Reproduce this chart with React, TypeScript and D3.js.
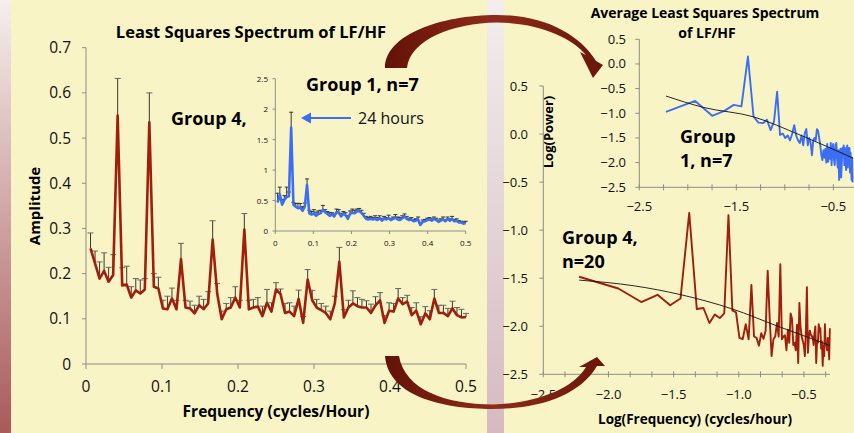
import React from "react";
import * as d3 from "d3";

// harmonic index k -> frequency k/168 cycles per hour (one week of hourly data)
const harmonics = d3.range(1, 85);
const baseHours = 168;

// Group 4 mean amplitude and upper error bar (linear spectrum)
const g4Amp = [
  0.256, 0.2225, 0.189, 0.206, 0.182, 0.197, 0.55, 0.174, 0.176, 0.147,
  0.163, 0.156, 0.165, 0.535, 0.171, 0.167, 0.123, 0.121, 0.145, 0.121,
  0.232, 0.125, 0.123, 0.112, 0.13, 0.1215, 0.134, 0.2755, 0.156, 0.099,
  0.121, 0.125, 0.147, 0.125, 0.2975, 0.121, 0.125, 0.127, 0.106, 0.1355,
  0.116, 0.165, 0.155, 0.113, 0.116, 0.106, 0.144, 0.091, 0.187, 0.141,
  0.125, 0.119, 0.113, 0.099, 0.134, 0.226, 0.103, 0.125, 0.134, 0.128,
  0.125, 0.125, 0.113, 0.13, 0.141, 0.091, 0.118, 0.116, 0.145, 0.1325,
  0.138, 0.108, 0.118, 0.088, 0.112, 0.099, 0.145, 0.113, 0.113, 0.106,
  0.123, 0.108, 0.103, 0.104,
];
const g4Err = [
  0.29, 0.25, 0.226, 0.246, 0.214, 0.242, 0.632, 0.213, 0.2165, 0.171,
  0.189, 0.186, 0.189, 0.6, 0.2, 0.192, 0.141, 0.15, 0.168, 0.141,
  0.267, 0.141, 0.139, 0.13, 0.15, 0.143, 0.16, 0.317, 0.178, 0.117,
  0.134, 0.147, 0.171, 0.141, 0.333, 0.141, 0.143, 0.147, 0.128, 0.165,
  0.1355, 0.18, 0.166, 0.134, 0.1355, 0.128, 0.1635, 0.105, 0.209, 0.163,
  0.143, 0.134, 0.128, 0.117, 0.15, 0.258, 0.12, 0.141, 0.162, 0.147,
  0.143, 0.14, 0.1325, 0.149, 0.158, 0.107, 0.1355, 0.134, 0.167, 0.147,
  0.152, 0.125, 0.1355, 0.1045, 0.127, 0.118, 0.165, 0.13, 0.13, 0.123,
  0.139, 0.125, 0.121, 0.112,
];

// Group 1 mean amplitude and upper error bar (inset)
const g1Amp = [
  0.47, 0.6, 0.43, 0.51, 0.56, 0.57, 1.7, 0.43, 0.4, 0.375,
  0.386, 0.33, 0.4, 0.755, 0.29, 0.27, 0.29, 0.25, 0.28, 0.29,
  0.35, 0.31, 0.28, 0.25, 0.27, 0.24, 0.31, 0.3, 0.24, 0.28,
  0.26, 0.2, 0.28, 0.3, 0.29, 0.32, 0.33, 0.3, 0.25, 0.2,
  0.19, 0.2, 0.19, 0.2, 0.18, 0.21, 0.17, 0.2, 0.19, 0.21,
  0.18, 0.2, 0.22, 0.19, 0.18, 0.21, 0.24, 0.2, 0.18, 0.19,
  0.16, 0.17, 0.19, 0.1, 0.15, 0.16, 0.18, 0.19, 0.17, 0.2,
  0.18, 0.15, 0.17, 0.19, 0.16, 0.2, 0.17, 0.2, 0.16, 0.17,
  0.14, 0.14, 0.12, 0.13,
];
const g1Err = [
  0.62, 0.72, 0.52, 0.58, 0.72, 0.64, 1.95, 0.47, 0.45, 0.455,
  0.45, 0.4, 0.46, 0.855, 0.34, 0.32, 0.35, 0.31, 0.33, 0.34,
  0.42, 0.35, 0.32, 0.3, 0.3, 0.28, 0.36, 0.35, 0.29, 0.32,
  0.3, 0.25, 0.33, 0.36, 0.34, 0.36, 0.37, 0.34, 0.29, 0.24,
  0.22, 0.24, 0.22, 0.25, 0.22, 0.25, 0.21, 0.24, 0.22, 0.26,
  0.21, 0.23, 0.27, 0.23, 0.22, 0.25, 0.28, 0.24, 0.21, 0.22,
  0.19, 0.2, 0.23, 0.13, 0.18, 0.19, 0.21, 0.22, 0.2, 0.23,
  0.21, 0.18, 0.2, 0.23, 0.19, 0.23, 0.2, 0.24, 0.19, 0.2,
  0.17, 0.16, 0.15, 0.16,
];

// average log power spectra
const g1LogPower = [
  -0.97, -0.75, -1.05, -0.95, -0.83, -0.86, 0.15, -1.07, -1.19, -1.2,
  -1.13, -1.34, -1.17, -0.56, -1.44, -1.41, -1.5, -1.45, -1.55, -1.42,
  -1.24, -1.45, -1.55, -1.6, -1.45, -1.65, -1.4, -1.32, -1.65, -1.5,
  -1.6, -1.85, -1.55, -1.5, -1.55, -1.32, -1.35, -1.5, -1.65, -1.85,
  -1.95, -1.75, -1.9, -1.72, -2.0, -1.62, -1.98, -1.7, -1.92, -1.6,
  -2.05, -1.7, -1.62, -1.95, -2.05, -1.65, -1.6, -1.9, -2.1, -1.75,
  -2.35, -1.9, -1.72, -2.3, -2.0, -1.7, -1.85, -1.65, -2.05, -1.7,
  -1.9, -2.15, -1.75, -1.65, -2.1, -1.7, -1.95, -1.7, -2.2, -1.8,
  -2.05, -2.35, -1.9, -2.4,
];
const g4LogPower = [
  -1.485, -1.607, -1.748, -1.673, -1.781, -1.712, -0.82, -1.82, -1.81, -1.966,
  -1.877, -1.915, -1.866, -0.844, -1.835, -1.856, -2.121, -2.135, -1.978, -2.135,
  -1.57, -2.107, -2.121, -2.202, -2.073, -2.131, -2.047, -1.421, -1.915, -2.31,
  -2.135, -2.107, -1.966, -2.107, -1.354, -2.135, -2.107, -2.094, -2.25, -2.037,
  -2.172, -1.866, -1.92, -2.195, -2.172, -2.25, -1.984, -2.383, -1.757, -2.002,
  -2.107, -2.15, -2.195, -2.31, -2.047, -1.593, -2.275, -2.107, -2.047, -2.087,
  -2.107, -2.107, -2.195, -2.073, -2.002, -2.383, -2.157, -2.172, -1.978, -2.057,
  -2.021, -2.234, -2.157, -2.412, -2.202, -2.31, -1.978, -2.195, -2.195, -2.25,
  -2.121, -2.234, -2.345, -2.02,
];

// fitted trend lines (log frequency, log power)
const g1TrendX = [-2.225, -1.84, -1.325, -0.843, -0.294];
const g1TrendY = [-0.65, -0.88, -1.07, -1.44, -1.91];
const g4TrendX = [-2.225, -1.8, -1.45, -1.05, -0.7, -0.3];
const g4TrendY = [-1.52, -1.58, -1.67, -1.82, -2.0, -2.2];

const mainYTicks = [0, 0.1, 0.2, 0.3, 0.4, 0.5, 0.6, 0.7];
const mainXTicks = [0, 0.1, 0.2, 0.3, 0.4, 0.5];
const insetYTicks = [0, 0.5, 1, 1.5, 2, 2.5];
const insetYLabels = ["0", "0.5", "1", "1.5", "2", "2.5"];
const logYTicks = [-2.5, -2.0, -1.5, -1.0, -0.5, 0.0, 0.5];
const g1LogXLabels = [-2.5, -1.5, -0.5];
const g4LogXLabels = [-2.5, -2.0, -1.5, -1.0, -0.5];

const BG = "#f8f4c6";
const RED = "#a01e0c";
const BLUE = "#3b6ef2";
const AXIS = "#8c8c8c";
const FONT = "'Open Sans', sans-serif";

const freqs = harmonics.map((k) => k / baseHours);
const logFreqs = freqs.map((f) => Math.log10(f));

const mainX = d3.scaleLinear().domain([0, 0.5]).range([86, 466]);
const mainY = d3.scaleLinear().domain([0, 0.7]).range([364, 47.7]);
const insetX = d3.scaleLinear().domain([0, 0.5]).range([275.3, 465.7]);
const insetY = d3.scaleLinear().domain([0, 2.5]).range([231, 78.7]);
const g1LogX = d3.scaleLinear().domain([-2.5, -0.3]).range([639.3, 852.7]);
const g1LogY = d3.scaleLinear().domain([-2.5, 0.5]).range([187.3, 39.3]);
const g4LogX = d3.scaleLinear().domain([-2.5, -0.3]).range([543.3, 830]);
const g4LogY = d3.scaleLinear().domain([-2.5, 0.5]).range([374.3, 86]);

const fmt1 = d3.format(".1f");

function seriesPath(xs: number[], ys: number[], sx: any, sy: any, curve?: any) {
  const line = d3
    .line<number>()
    .x((_, i) => sx(xs[i]))
    .y((d) => sy(d));
  if (curve) line.curve(curve);
  return line(ys) || "";
}

const ErrorBars = ({ xs, ys, es, sx, sy, cap, color }: any) => (
  <g>
    {ys.map((v: number, i: number) => (
      <g key={i}>
        <line x1={sx(xs[i])} x2={sx(xs[i])} y1={sy(v)} y2={sy(es[i])} stroke="#222" strokeWidth={0.9} />
        <line
          x1={sx(xs[i]) - cap / 2}
          x2={sx(xs[i]) + cap / 2}
          y1={sy(es[i])}
          y2={sy(es[i])}
          stroke={color}
          strokeWidth={1}
        />
      </g>
    ))}
  </g>
);

export default function App() {
  const logTicksMinor = d3.range(0, 14).map((i) => -2.5 + i / 6);
  const g1MinorTicks = d3.range(0, 9).map((i) => -2.5 + i * 0.25);

  return (
    <svg
      width={854}
      height={433}
      style={{ position: "fixed", left: 0, top: 0, fontFamily: FONT }}
    >
      <defs>
        <linearGradient id="leftStrip" x1="0" y1="0" x2="0" y2="1">
          <stop offset="0" stopColor="#f5efee" />
          <stop offset="1" stopColor="#a95a5a" />
        </linearGradient>
        <linearGradient id="midStrip" x1="0" y1="0" x2="0" y2="1">
          <stop offset="0" stopColor="#f3eeec" />
          <stop offset="1" stopColor="#d5bbbf" />
        </linearGradient>
        <linearGradient id="arrowFill" x1="0" y1="0" x2="1" y2="0">
          <stop offset="0" stopColor="#641207" />
          <stop offset="0.5" stopColor="#8e2b1b" />
          <stop offset="1" stopColor="#6a160a" />
        </linearGradient>
      </defs>
      <rect x={0} y={0} width={854} height={433} fill={BG} />
      <rect x={0} y={0} width={11} height={433} fill="url(#leftStrip)" />
      <rect x={487} y={0} width={17} height={433} fill="url(#midStrip)" />

      {/* ---------- main linear spectrum (Group 4) ---------- */}
      <text x={251} y={37.5} textAnchor="middle" fontSize={16.5} fontWeight="bold">
        Least Squares Spectrum of LF/HF
      </text>
      <line x1={86} x2={86} y1={mainY(0.7)} y2={mainY(0)} stroke={AXIS} strokeWidth={1} />
      <line x1={86} x2={466} y1={mainY(0)} y2={mainY(0)} stroke={AXIS} strokeWidth={1} />
      {mainYTicks.map((t) => (
        <g key={t}>
          <line x1={82} x2={86} y1={mainY(t)} y2={mainY(t)} stroke={AXIS} />
          <text x={71} y={mainY(t) + 5.5} textAnchor="end" fontSize={15.5} fill="#111">
            {t === 0 ? "0" : fmt1(t)}
          </text>
        </g>
      ))}
      {mainXTicks.map((t) => (
        <g key={t}>
          <line x1={mainX(t)} x2={mainX(t)} y1={364} y2={369} stroke={AXIS} />
          <text x={mainX(t)} y={392} textAnchor="middle" fontSize={15.5} fill="#111">
            {t === 0 ? "0" : fmt1(t)}
          </text>
        </g>
      ))}
      <text x={276} y={417} textAnchor="middle" fontSize={15.5} fontWeight="bold">
        Frequency (cycles/Hour)
      </text>
      <text
        transform={`translate(40,206) rotate(-90)`}
        textAnchor="middle"
        fontSize={15}
        fontWeight="bold"
      >
        Amplitude
      </text>
      <ErrorBars xs={freqs} ys={g4Amp} es={g4Err} sx={mainX} sy={mainY} cap={6} color="#666" />
      <path d={seriesPath(freqs, g4Amp, mainX, mainY)} fill="none" stroke={RED} strokeWidth={2.6} strokeLinejoin="round" />
      <text x={171} y={124.5} fontSize={18} fontWeight="bold">
        Group 4,
      </text>

      {/* ---------- inset (Group 1) ---------- */}
      <line x1={insetX(0)} x2={insetX(0)} y1={insetY(2.5)} y2={insetY(0)} stroke={AXIS} />
      <line x1={insetX(0)} x2={insetX(0.5)} y1={insetY(0)} y2={insetY(0)} stroke={AXIS} />
      {insetYTicks.map((t, i) => (
        <g key={t}>
          <line x1={272.5} x2={insetX(0)} y1={insetY(t)} y2={insetY(t)} stroke={AXIS} />
          <text x={268} y={insetY(t) + 3} textAnchor="end" fontSize={8} fill="#111">
            {insetYLabels[i]}
          </text>
        </g>
      ))}
      {mainXTicks.map((t) => (
        <g key={t}>
          <line x1={insetX(t)} x2={insetX(t)} y1={231} y2={234} stroke={AXIS} />
          <text x={insetX(t)} y={246} textAnchor="middle" fontSize={8} fill="#111">
            {t === 0 ? "0" : fmt1(t)}
          </text>
        </g>
      ))}
      <ErrorBars xs={freqs} ys={g1Amp} es={g1Err} sx={insetX} sy={insetY} cap={4} color="#333" />
      <path d={seriesPath(freqs, g1Amp, insetX, insetY)} fill="none" stroke={BLUE} strokeWidth={2.6} strokeLinejoin="round" />
      <text x={306} y={91} fontSize={18} fontWeight="bold">
        Group 1, n=7
      </text>
      <line x1={308} x2={351} y1={118} y2={118} stroke={BLUE} strokeWidth={2} />
      <path d="M301,118 L311,112.5 L311,123.5 Z" fill={BLUE} />
      <text x={358} y={123.5} fontSize={16} fill="#111">
        24 hours
      </text>

      {/* ---------- log spectrum, Group 1 ---------- */}
      <text x={705} y={18} textAnchor="middle" fontSize={14} fontWeight="bold">
        Average Least Squares Spectrum
      </text>
      <text x={707} y={38} textAnchor="middle" fontSize={14} fontWeight="bold">
        of LF/HF
      </text>
      <line x1={g1LogX(-2.5)} x2={g1LogX(-2.5)} y1={g1LogY(0.5)} y2={g1LogY(-2.5)} stroke={AXIS} />
      <line x1={g1LogX(-2.5)} x2={854} y1={g1LogY(-2.5)} y2={g1LogY(-2.5)} stroke={AXIS} />
      {logYTicks.map((t) => (
        <g key={t}>
          <line x1={g1LogX(-2.5) - 4} x2={g1LogX(-2.5)} y1={g1LogY(t)} y2={g1LogY(t)} stroke={AXIS} />
          <text x={626} y={g1LogY(t) + 4.5} textAnchor="end" fontSize={13} fill="#111">
            {fmt1(t)}
          </text>
        </g>
      ))}
      {g1MinorTicks.map((t) => (
        <line key={t} x1={g1LogX(t)} x2={g1LogX(t)} y1={g1LogY(-2.5) - 3} y2={g1LogY(-2.5) + 3} stroke={AXIS} />
      ))}
      {g1LogXLabels.map((t) => (
        <text key={t} x={g1LogX(t)} y={211} textAnchor="middle" fontSize={13} fill="#111">
          {fmt1(t)}
        </text>
      ))}
      <path d={seriesPath(logFreqs, g1LogPower, g1LogX, g1LogY)} fill="none" stroke={BLUE} strokeWidth={1.9} strokeLinejoin="round" />
      <path d={seriesPath(g1TrendX, g1TrendY, g1LogX, g1LogY, d3.curveMonotoneX)} fill="none" stroke="#111" strokeWidth={0.9} />
      <text x={680} y={143} fontSize={18} fontWeight="bold">
        Group
      </text>
      <text x={680} y={167} fontSize={18} fontWeight="bold">
        1, n=7
      </text>

      {/* ---------- log spectrum, Group 4 ---------- */}
      <line x1={g4LogX(-2.5)} x2={g4LogX(-2.5)} y1={g4LogY(0.5)} y2={g4LogY(-2.5)} stroke={AXIS} />
      <line x1={g4LogX(-2.5)} x2={g4LogX(-0.3)} y1={g4LogY(-2.5)} y2={g4LogY(-2.5)} stroke={AXIS} />
      {logYTicks.map((t) => (
        <g key={t}>
          <line x1={g4LogX(-2.5) - 4} x2={g4LogX(-2.5)} y1={g4LogY(t)} y2={g4LogY(t)} stroke={AXIS} />
          <text x={528} y={g4LogY(t) + 4.5} textAnchor="end" fontSize={13} fill="#111">
            {fmt1(t)}
          </text>
        </g>
      ))}
      {logTicksMinor.map((t) => (
        <line key={t} x1={g4LogX(t)} x2={g4LogX(t)} y1={g4LogY(-2.5) - 3} y2={g4LogY(-2.5) + 3} stroke={AXIS} />
      ))}
      {g4LogXLabels.map((t) => (
        <text key={t} x={g4LogX(t)} y={399} textAnchor="middle" fontSize={13} fill="#111">
          {fmt1(t)}
        </text>
      ))}
      <text
        transform={`translate(553,132) rotate(-90)`}
        textAnchor="middle"
        fontSize={13}
        fontWeight="bold"
      >
        Log(Power)
      </text>
      <text x={695} y={424} textAnchor="middle" fontSize={13.5} fontWeight="bold">
        Log(Frequency) (cycles/hour)
      </text>
      <path d={seriesPath(logFreqs, g4LogPower, g4LogX, g4LogY)} fill="none" stroke={RED} strokeWidth={1.9} strokeLinejoin="round" />
      <path d={seriesPath(g4TrendX, g4TrendY, g4LogX, g4LogY, d3.curveMonotoneX)} fill="none" stroke="#111" strokeWidth={0.9} />
      <text x={562} y={244} fontSize={18} fontWeight="bold">
        Group 4,
      </text>
      <text x={562} y={268} fontSize={18} fontWeight="bold">
        n=20
      </text>

      {/* ---------- curved arrows ---------- */}
      <path
        d="M385,68 C385,35 440,15 497,15 C545,15 580,35 596,61 L603,65 L593,78 L580,52 L586,55 C572,38 540,23 497,22.5 C452,23 410,40 407,68 Z"
        fill="url(#arrowFill)"
      />
      <path
        d="M385,356 C388,395 440,409 493,409 C540,409 580,395 597,366 L605,366 L597,357 L579,367 L586,367 C572,390 535,403 493,404.5 C445,404 405,390 399,356 Z"
        fill="url(#arrowFill)"
      />
    </svg>
  );
}
